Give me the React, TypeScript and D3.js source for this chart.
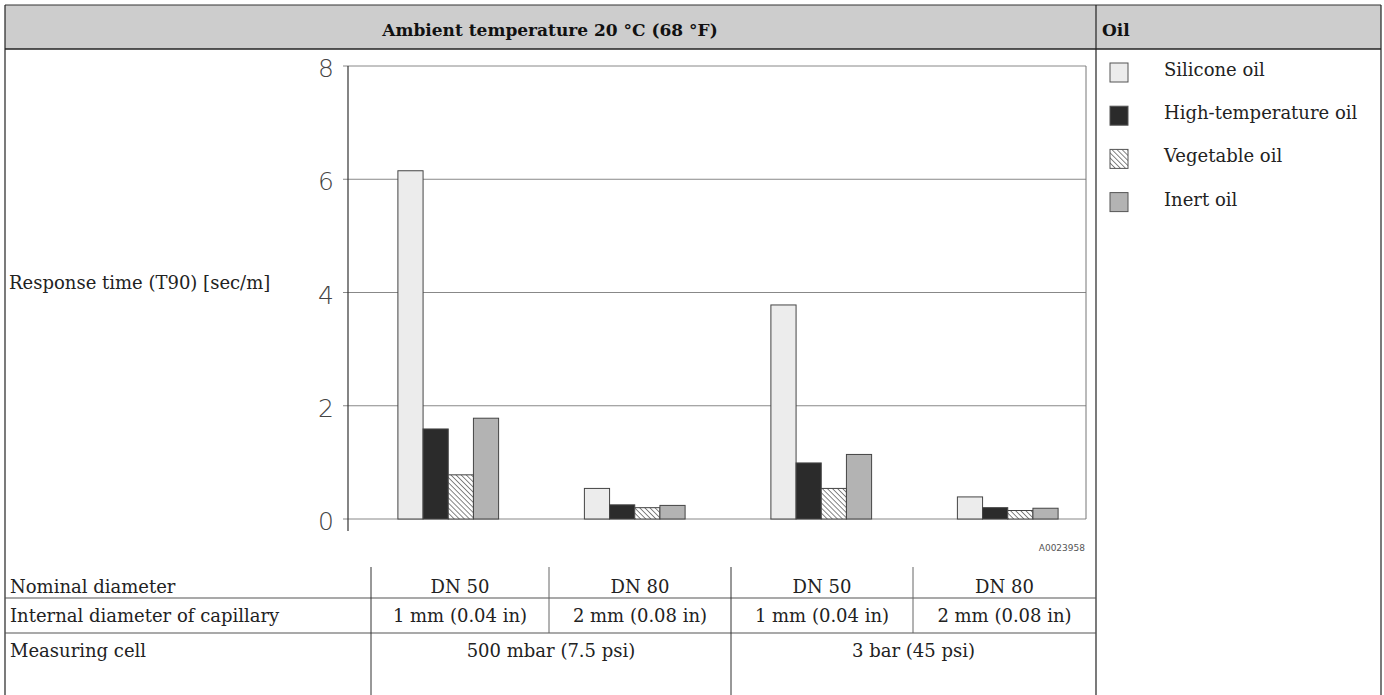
import React from "react";
import * as d3 from "d3";

const groups = ["g1", "g2", "g3", "g4"];
const seriesNames = ["Silicone oil", "High-temperature oil", "Vegetable oil", "Inert oil"];
const silicone = [6.15, 0.54, 3.78, 0.39];
const highTemp = [1.59, 0.25, 0.99, 0.2];
const vegetable = [0.78, 0.2, 0.54, 0.15];
const inert = [1.78, 0.24, 1.14, 0.19];
const yTicks = [0, 2, 4, 6, 8];
const nominalDiameter = ["DN 50", "DN 80", "DN 50", "DN 80"];
const capillary = ["1 mm (0.04 in)", "2 mm (0.08 in)", "1 mm (0.04 in)", "2 mm (0.08 in)"];
const measuringCell = ["500 mbar (7.5 psi)", "3 bar (45 psi)"];
const rowLabels = ["Nominal diameter", "Internal diameter of capillary", "Measuring cell"];

const seriesValues = [silicone, highTemp, vegetable, inert];
const fills = ["#ececec", "#2b2b2b", "url(#hatch)", "#b3b3b3"];

const W = 1384;
const H = 695;
const SERIF = "'DejaVu Serif', serif";
const SANS = "'DejaVu Sans', sans-serif";
const FS = 18;

export default function App() {
  const plotLeft = 348;
  const plotRight = 1086;
  const y = d3.scaleLinear().domain([0, 8]).range([519, 66]);
  const x0 = d3.scaleBand<string>().domain(groups).range([355, 1101]).paddingInner(0.46).paddingOuter(0.23);
  const x1 = d3.scaleBand<number>().domain([0, 1, 2, 3]).range([0, x0.bandwidth()]);

  const colEdges = [371, 549, 731, 913, 1096];
  const rowLines = [598, 633];
  const rowMid = [587, 616, 651];

  return (
    <svg width={W} height={H} style={{ position: "absolute", left: 0, top: 0, background: "#fff" }}>
      <defs>
        <pattern id="hatch" patternUnits="userSpaceOnUse" width={3.6} height={3.6} patternTransform="rotate(-45)">
          <rect width={3.6} height={3.6} fill="#fff" />
          <line x1={0} y1={0} x2={0} y2={3.6} stroke="#222" strokeWidth={1.1} />
        </pattern>
      </defs>

      {/* header */}
      <rect x={5} y={5} width={1376} height={44} fill="#cdcdcd" />
      <line x1={5} x2={1381} y1={5} y2={5} stroke="#333" strokeWidth={1.2} />
      <line x1={5} x2={1381} y1={49} y2={49} stroke="#222" strokeWidth={1.4} />
      <line x1={5} x2={5} y1={5} y2={H} stroke="#222" strokeWidth={1.2} />
      <line x1={1381} x2={1381} y1={5} y2={H} stroke="#222" strokeWidth={1.2} />
      <line x1={1096} x2={1096} y1={5} y2={H} stroke="#222" strokeWidth={1.2} />
      <text x={550} y={36} textAnchor="middle" fontFamily={SERIF} fontWeight="bold" fontSize={17} fill="#111">
        Ambient temperature 20 °C (68 °F)
      </text>
      <text x={1102} y={36} fontFamily={SERIF} fontWeight="bold" fontSize={17} fill="#111">Oil</text>

      {/* grid and frame */}
      {yTicks.map((t) => (
        <g key={t}>
          <line x1={plotLeft - 5} x2={plotRight} y1={y(t)} y2={y(t)} stroke="#888" strokeWidth={1} />
          <text x={334} y={y(t) + 11} textAnchor="end" fontFamily={SANS} fontWeight={200} fontSize={25} fill="#444">{t}</text>
        </g>
      ))}
      <line x1={plotRight} x2={plotRight} y1={y(8)} y2={y(0)} stroke="#777" strokeWidth={1} />
      <line x1={plotLeft} x2={plotLeft} y1={y(8)} y2={531} stroke="#333" strokeWidth={1.2} />

      {/* bars */}
      {groups.map((g, gi) => (
        <g key={g} transform={`translate(${x0(g)},0)`}>
          {seriesValues.map((vals, si) => (
            <rect
              key={si}
              x={x1(si)}
              y={y(vals[gi])}
              width={x1.bandwidth()}
              height={y(0) - y(vals[gi])}
              fill={fills[si]}
              stroke="#444"
              strokeWidth={1}
            />
          ))}
        </g>
      ))}

      <text x={1085} y={551} textAnchor="end" fontFamily={SANS} fontSize={9} fill="#555">A0023958</text>

      {/* y label */}
      <text x={9} y={289} fontFamily={SERIF} fontSize={FS} fill="#222">Response time (T90) [sec/m]</text>

      {/* legend */}
      {seriesNames.map((s, i) => (
        <g key={s} transform={`translate(0,${72 + i * 43.2})`}>
          <rect x={1110} y={-9} width={18} height={19} fill={fills[i]} stroke="#555" strokeWidth={1} />
          <text x={1164} y={4} fontFamily={SERIF} fontSize={FS} fill="#222">{s}</text>
        </g>
      ))}

      {/* table */}
      {rowLines.map((ry) => (
        <line key={ry} x1={5} x2={1096} y1={ry} y2={ry} stroke="#555" strokeWidth={1.2} />
      ))}
      <line x1={colEdges[0]} x2={colEdges[0]} y1={567} y2={H} stroke="#333" strokeWidth={1} />
      <line x1={colEdges[2]} x2={colEdges[2]} y1={567} y2={H} stroke="#333" strokeWidth={1} />
      <line x1={colEdges[1]} x2={colEdges[1]} y1={567} y2={633} stroke="#666" strokeWidth={1} />
      <line x1={colEdges[3]} x2={colEdges[3]} y1={567} y2={633} stroke="#666" strokeWidth={1} />
      {rowLabels.map((r, i) => (
        <text key={r} x={10} y={rowMid[i] + 6} fontFamily={SERIF} fontSize={FS} fill="#222">{r}</text>
      ))}
      {nominalDiameter.map((d, i) => (
        <text key={i} x={(colEdges[i] + colEdges[i + 1]) / 2} y={rowMid[0] + 6} textAnchor="middle" fontFamily={SERIF} fontSize={FS} fill="#222">{d}</text>
      ))}
      {capillary.map((d, i) => (
        <text key={i} x={(colEdges[i] + colEdges[i + 1]) / 2} y={rowMid[1] + 6} textAnchor="middle" fontFamily={SERIF} fontSize={FS} fill="#222">{d}</text>
      ))}
      {measuringCell.map((d, i) => (
        <text key={i} x={(colEdges[i * 2] + colEdges[i * 2 + 2]) / 2} y={rowMid[2] + 6} textAnchor="middle" fontFamily={SERIF} fontSize={FS} fill="#222">{d}</text>
      ))}
    </svg>
  );
}
